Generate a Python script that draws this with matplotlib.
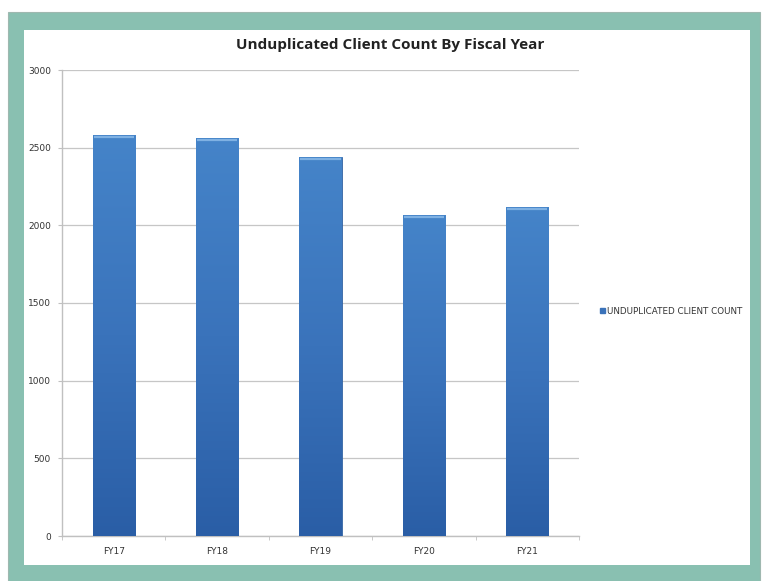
import matplotlib
matplotlib.use("Agg")
import matplotlib.pyplot as plt
import matplotlib.patches as mpatches
from matplotlib.colors import LinearSegmentedColormap
import numpy as np

categories = ["FY17", "FY18", "FY19", "FY20", "FY21"]
values = [2579, 2564, 2440, 2064, 2118]
yticks = [0, 500, 1000, 1500, 2000, 2500, 3000]
series_name = "UNDUPLICATED CLIENT COUNT"
title = "Unduplicated Client Count By Fiscal Year"

W, H = 768, 581
fig = plt.figure(figsize=(W / 100, H / 100), dpi=100)
fig.patch.set_facecolor("white")

teal = "#89c0b1"
# teal frame
fig.add_artist(mpatches.Rectangle((8 / W, 0), (760 - 8) / W, 1 - 12 / H,
                                  transform=fig.transFigure, facecolor=teal,
                                  edgecolor="#9fb8b0", linewidth=0.8, zorder=0))
# inner white panel
fig.add_artist(mpatches.Rectangle((24 / W, 1 - 565 / H), (750 - 24) / W, (565 - 30) / H,
                                  transform=fig.transFigure, facecolor="white",
                                  edgecolor="none", zorder=0.5))

ax = fig.add_axes([62 / W, 1 - 536 / H, (579 - 62) / W, (536 - 70) / H])
ax.set_facecolor("none")
ax.set_zorder(2)

x = np.arange(len(categories))
bars = ax.bar(x, values, width=0.41, color="#3a72b9", edgecolor="#3465a4",
              linewidth=0.6, zorder=3, label=series_name)

# vertical gradient on bars
grad = np.linspace(0, 1, 256).reshape(-1, 1)
cmap = LinearSegmentedColormap.from_list("b", ["#2a5ea6", "#3a73bb", "#4584c9"])
for b, v in zip(bars, values):
    x0 = b.get_x()
    im = ax.imshow(grad, cmap=cmap, aspect="auto", origin="lower",
                   extent=[x0, x0 + b.get_width(), 0, v], zorder=3.5)
    im.set_clip_path(b)
    # light top cap
    ax.plot([x0 + 0.01, x0 + b.get_width() - 0.01], [v - 12, v - 12],
            color="#7fb1e3", lw=1.6, zorder=4, solid_capstyle="butt")

ax.set_xlim(-0.5, len(categories) - 0.5)
ax.set_ylim(0, 3000)
ax.set_yticks(yticks)
ax.set_yticklabels([str(t) for t in yticks])
ax.set_xticks(x)
ax.set_xticklabels(categories)
ax.set_xticks(np.arange(-0.5, len(categories), 1.0), minor=True)

ax.grid(axis="y", color="#c6c6c6", linewidth=0.9, zorder=1)
ax.set_axisbelow(True)

for s in ["top", "right"]:
    ax.spines[s].set_visible(False)
ax.spines["left"].set_color("#c0c0c0")
ax.spines["bottom"].set_color("#c0c0c0")
ax.spines["left"].set_linewidth(1.0)
ax.spines["bottom"].set_linewidth(1.0)

ax.tick_params(axis="y", which="major", length=3, color="#c0c0c0",
               labelsize=6.5, labelcolor="#333333", pad=5)
ax.tick_params(axis="x", which="major", length=0, labelsize=6.5,
               labelcolor="#333333", pad=8)
ax.tick_params(axis="x", which="minor", length=3, color="#c0c0c0")

fig.text(390 / W, 1 - 45 / H, title, ha="center", va="center",
         fontsize=11, fontweight="bold", color="#222222", family="Open Sans")

leg = fig.legend(handles=[mpatches.Patch(color="#3a72b9", label=series_name)],
                 loc="center left", bbox_to_anchor=(596 / W, 1 - 311 / H),
                 frameon=False, fontsize=6.3, handlelength=0.6, handleheight=0.6,
                 handletextpad=0.3, borderaxespad=0)
for t in leg.get_texts():
    t.set_color("#333333")

fig.savefig("out.png", dpi=100)
